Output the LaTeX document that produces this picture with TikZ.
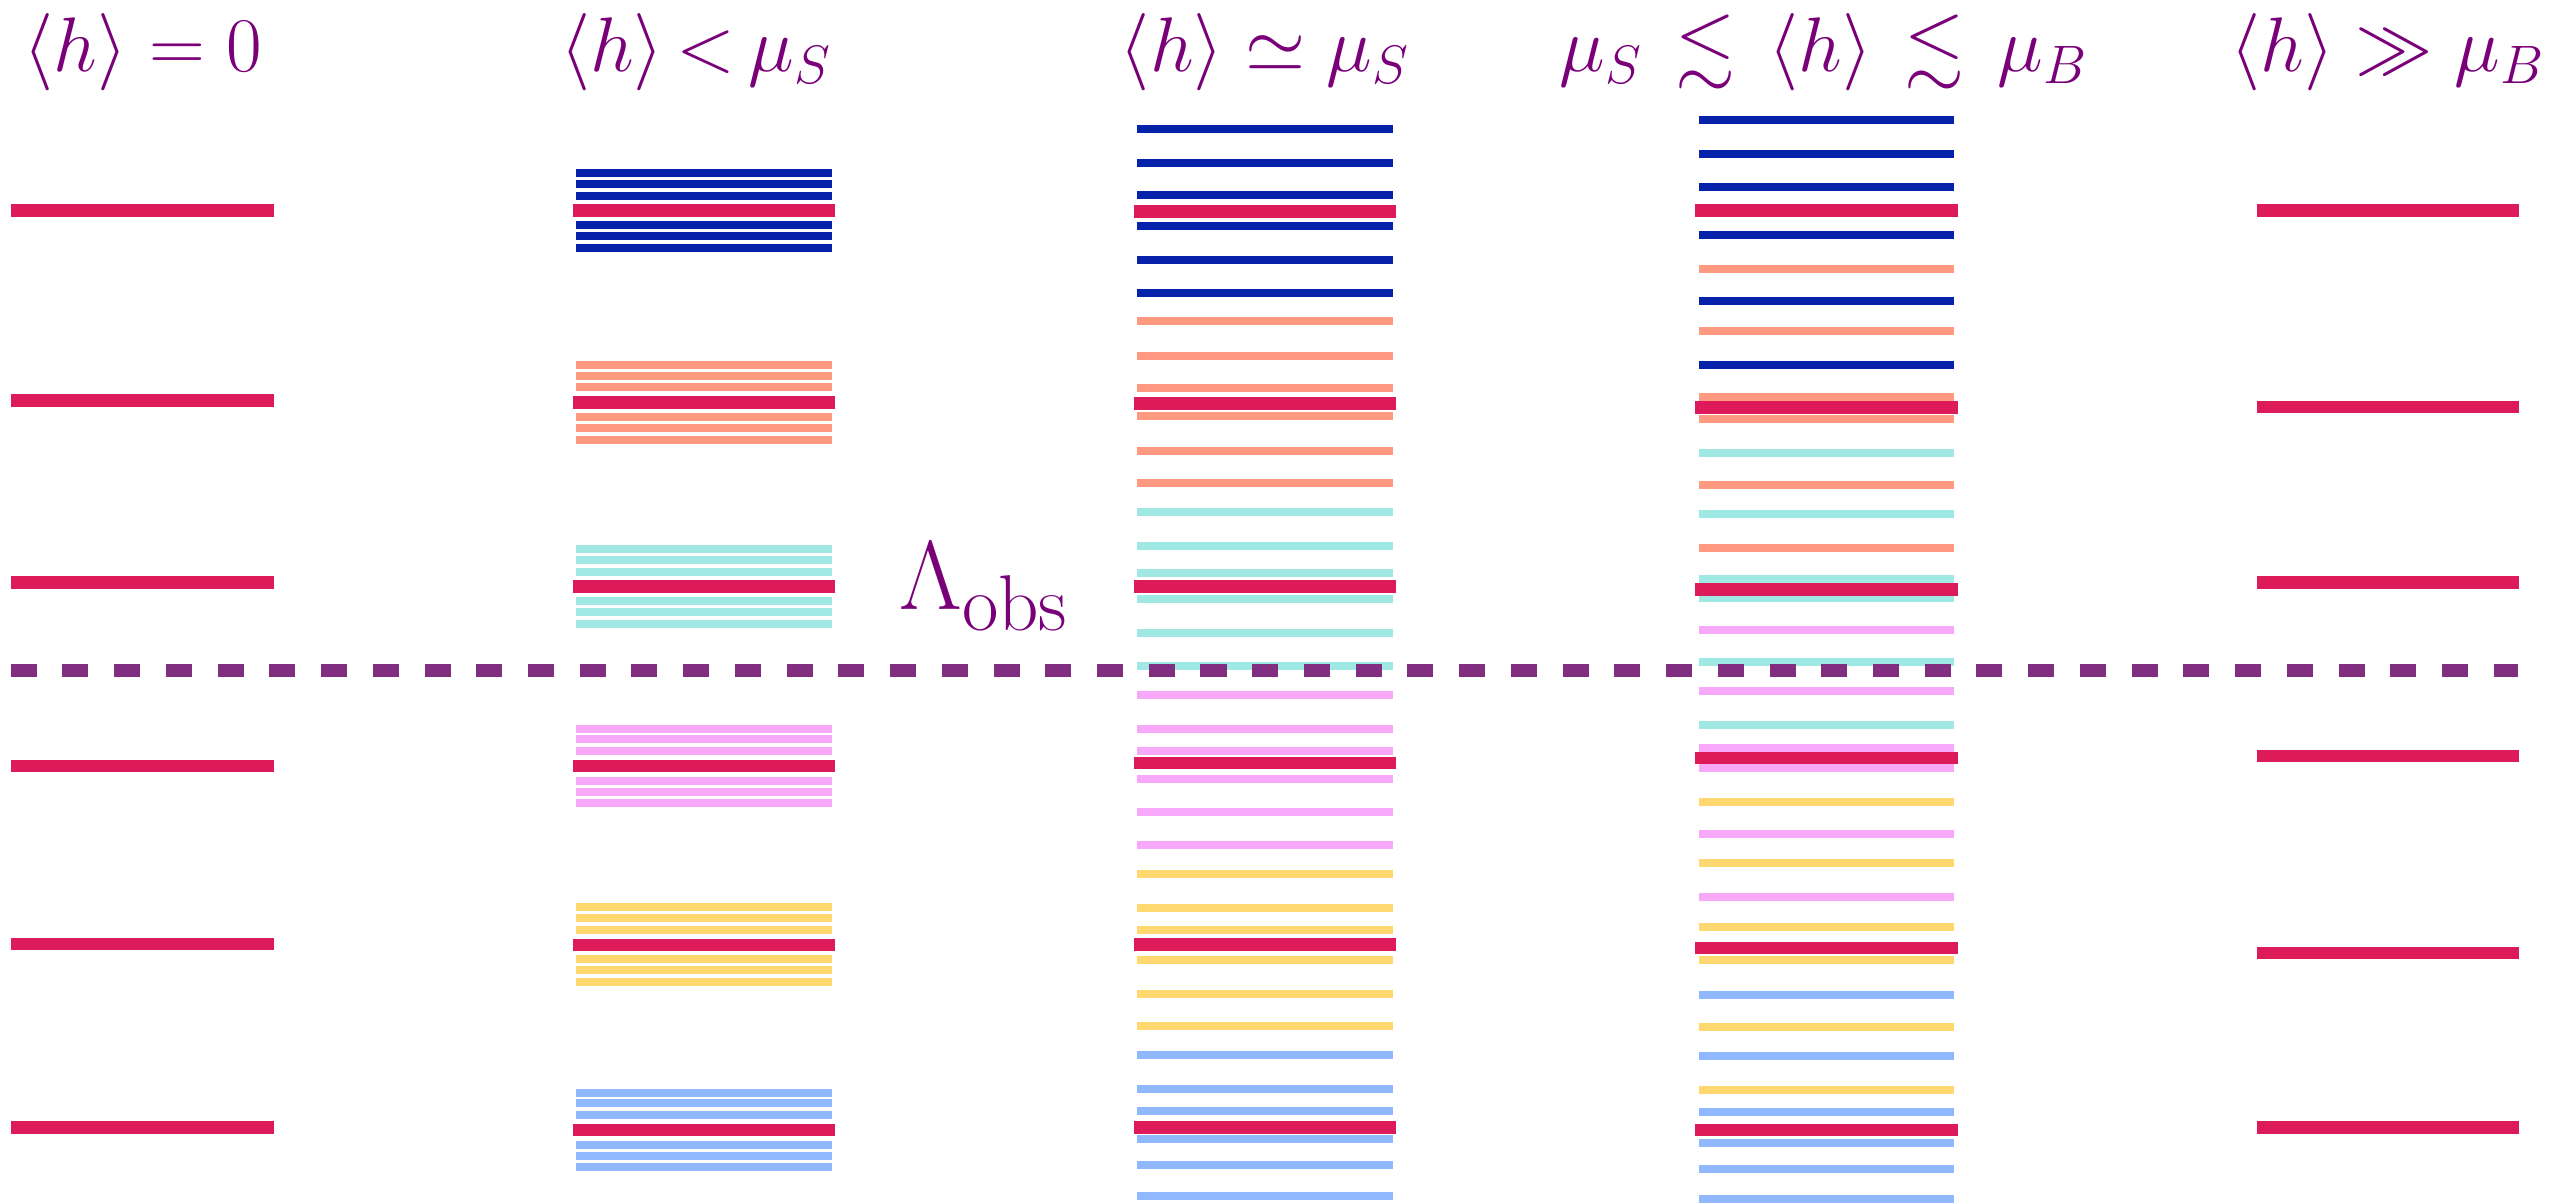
\RequirePackage{fix-cm}
\documentclass[tikz,border=0pt]{standalone}
\usepackage{amsmath,amssymb}
\DeclareMathSizes{22}{22}{15.4}{11}
\DeclareMathSizes{27.8}{27.8}{22.5}{16}
\definecolor{cRed}{RGB}{222,27,90}
\definecolor{cBlue}{RGB}{7,34,170}
\definecolor{cOrange}{RGB}{255,153,128}
\definecolor{cCyan}{RGB}{160,232,228}
\definecolor{cPink}{RGB}{248,168,248}
\definecolor{cYellow}{RGB}{255,216,112}
\definecolor{cLightBlue}{RGB}{144,184,255}
\definecolor{cDash}{RGB}{129,46,128}
\definecolor{cText}{RGB}{122,0,122}
\tikzset{
  mainlvl/.style={line width=0.125cm, cRed},
  sublvl/.style={line width=0.08cm},
  obsline/.style={line width=0.125cm, cDash, dash pattern=on 0.26cm off 0.257cm},
  collabel/.style={text=cText, font=\fontsize{22}{26}\selectfont, anchor=base, inner sep=0pt},
  lamlabel/.style={text=cText, font=\fontsize{27.8}{33}\selectfont, anchor=base west, inner sep=0pt},
}
\begin{document}
\begin{tikzpicture}[x=0.01cm,y=-0.01cm]
\useasboundingbox[fill=white] (0,0) rectangle (2574,1202);

% ---- column 2: <h> < mu_S
\foreach \y in {173.3,184,196,225.3,236,248} \draw[sublvl,cBlue] (576,\y) -- (831.7,\y);
\foreach \y in {365,375.7,387.3,417.3,428,439.7} \draw[sublvl,cOrange] (576,\y) -- (831.7,\y);
\foreach \y in {549,559.7,571.7,601.3,612,623.7} \draw[sublvl,cCyan] (576,\y) -- (831.7,\y);
\foreach \y in {728.5,739,751,780.6,791.5,803} \draw[sublvl,cPink] (576,\y) -- (831.7,\y);
\foreach \y in {907.3,918.2,930.2,959.4,970.3,982.3} \draw[sublvl,cYellow] (576,\y) -- (831.7,\y);
\foreach \y in {1092.5,1103.4,1115.3,1144.6,1155.5,1167.4} \draw[sublvl,cLightBlue] (576,\y) -- (831.7,\y);

% ---- column 3: <h> ~ mu_S
\foreach \y in {128.8,162.8,195.1,226.3,260.3,292.6} \draw[sublvl,cBlue] (1137.3,\y) -- (1392.7,\y);
\foreach \y in {321.4,355.7,388.4,416.4,450.8,483.1} \draw[sublvl,cOrange] (1137.3,\y) -- (1392.7,\y);
\foreach \y in {512.2,546.2,573.2,599.2,633.2,665.8} \draw[sublvl,cCyan] (1137.3,\y) -- (1392.7,\y);
\foreach \y in {694.8,728.5,751.1,778.7,812.4,845} \draw[sublvl,cPink] (1137.3,\y) -- (1392.7,\y);
\foreach \y in {874,908.1,930.3,959.7,993.7,1026} \draw[sublvl,cYellow] (1137.3,\y) -- (1392.7,\y);
\foreach \y in {1055,1089,1111.3,1139.2,1165.4,1195.5} \draw[sublvl,cLightBlue] (1137.3,\y) -- (1392.7,\y);

% ---- column 4: mu_S <~ <h> <~ mu_B
\foreach \y in {120,154,186.6,234.7,301.4,364.5} \draw[sublvl,cBlue] (1699,\y) -- (1954,\y);
\foreach \y in {268.7,330.5,396.8,418.5,484.8,548} \draw[sublvl,cOrange] (1699,\y) -- (1954,\y);
\foreach \y in {452.6,513.9,578.5,598.1,662.2,725.3} \draw[sublvl,cCyan] (1699,\y) -- (1954,\y);
\foreach \y in {629.7,691.3,747.5,767.6,833.9,897} \draw[sublvl,cPink] (1699,\y) -- (1954,\y);
\foreach \y in {801.6,862.9,927.1,960.4,1027.1,1089.8} \draw[sublvl,cYellow] (1699,\y) -- (1954,\y);
\foreach \y in {994.5,1056.1,1112,1142.8,1169.4,1198.7} \draw[sublvl,cLightBlue] (1699,\y) -- (1954,\y);

% ---- main (red) levels
\foreach \y in {210.6,400.6,582.4,766.1,944,1127.7} \draw[mainlvl] (11.3,\y) -- (274,\y);
\foreach \y in {210.3,402.3,586.7,766.2,945,1130.1} \draw[mainlvl] (572.7,\y) -- (835,\y);
\foreach \y in {211.6,403.4,586.6,762.9,944.3,1127.4} \draw[mainlvl] (1134,\y) -- (1396.3,\y);
\foreach \y in {210.5,407.3,589.4,757.9,947.9,1129.9} \draw[mainlvl] (1695.3,\y) -- (1957.7,\y);
\foreach \y in {210.6,407,582.4,755.9,953,1127.7} \draw[mainlvl] (2256.7,\y) -- (2518.7,\y);

% ---- observed scale
\coordinate (obsL) at (10.7,670.3);
\coordinate (obsR) at (2518.3,670.3);
\draw[obsline] (obsL) -- (obsR);
\node[lamlabel] (lam) at (899,609.3) {$\Lambda_{\mathrm{obs}}$};

% ---- column labels
\node[collabel] (l1) at (142.7,71.5) {$\langle h\rangle = 0$};
\node[collabel] (l2) at (696,71.5) {$\thickmuskip=3mu \langle h\rangle < \mu_S$};
\node[collabel] (l3) at (1265,71.5) {$\langle h\rangle \simeq \mu_S$};
\node[collabel] (l4) at (1824,71.5) {$\thickmuskip=7.6mu \mu_S \lesssim \langle h\rangle \lesssim \mu_B$};
\node[collabel] (l5) at (2387.7,71.5) {$\langle h\rangle \gg \mu_B$};
\end{tikzpicture}
\end{document}
